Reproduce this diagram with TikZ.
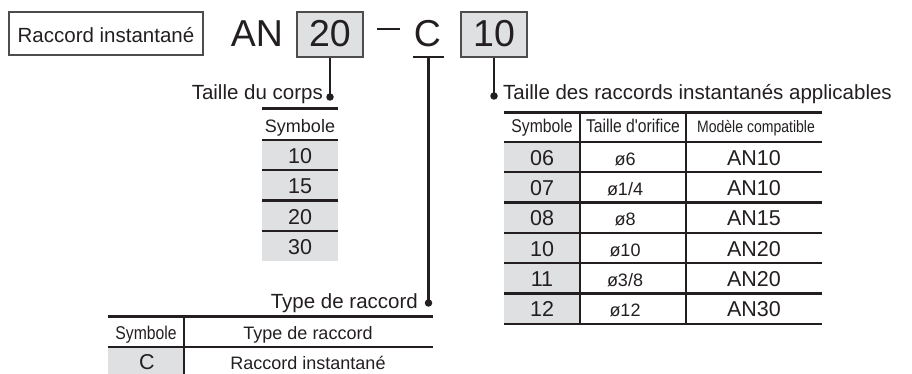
\documentclass[tikz,border=0pt]{standalone}
\usepackage{fontspec}
\setmainfont{Liberation Sans}
\newfontfamily\narrowfont[FakeStretch=0.85]{Liberation Sans}
\definecolor{cellgray}{RGB}{223,224,226}
\definecolor{ink}{RGB}{35,31,32}
\tikzset{
  txt/.style={inner sep=0pt, anchor=base, text=ink},
  big/.style={font=\fontsize{37.5}{38}\selectfont},
  lbl/.style={font=\fontsize{20.5}{21}\selectfont},
  val/.style={font=\fontsize{21.5}{22}\selectfont},
  small/.style={font=\fontsize{18}{18}\selectfont},
  head/.style={font=\narrowfont\fontsize{18.5}{19}\selectfont},
  rule/.style={draw=ink, line width=3pt},
  sep/.style={draw=ink, line width=2.3pt},
  lead/.style={draw=ink, line width=2.3pt},
  codebox/.style={draw=ink!80, line width=1.4pt, inner sep=0pt, text=ink},
  pin/.style={circle, fill=ink, inner sep=0pt, minimum size=7.5pt},
}
\begin{document}
\begin{tikzpicture}[x=1pt,y=-1pt]
  \useasboundingbox (0,0) rectangle (912,374);
  % model code
  \node[codebox, lbl, minimum width=194pt, minimum height=43pt,
    text height=18.4pt, text depth=0pt] (kind) at (106,33.5) {Raccord instantané};
  \node[txt, big] (an) at (257,47) {AN};
  \node[codebox, big, fill=cellgray, minimum width=66pt, minimum height=45pt,
    text height=25pt, text depth=0pt] (size) at (330,34.5) {20};
  \draw[ink, line width=1.6pt] (377,29) -- (400,29);
  \node[txt, big] (conn) at (427.5,47) {C};
  \coordinate (cbar) at (428.5,57);
  \draw[lead] (413,57) -- (444,57);
  \node[codebox, big, fill=cellgray, minimum width=66pt, minimum height=45pt,
    text height=25pt, text depth=0pt] (port) at (494,34.5) {10};

  % leaders
  \node[pin] (pcorps) at (330,97) {};
  \node[pin] (pport) at (494,96) {};
  \node[pin] (ptype) at (428.5,303) {};
  \draw[lead] (size.south) -- (pcorps.center);
  \draw[lead] (port.south) -- (pport.center);
  \draw[lead] (cbar) -- (ptype.center);
  \node[txt, lbl, anchor=base east] (lcorps) at (323,100) {Taille du corps};
  \node[txt, lbl, anchor=base west] (lport) at (503,100) {Taille des raccords instantanés applicables};
  \node[txt, lbl, anchor=base east] (ltype) at (418,308) {Type de raccord};

  % body size table
  \fill[cellgray] (262,140) rectangle (338,261);
  \draw[rule] (262,109) -- (338,109);
  \node[txt, small] (bhead) at (300,133) {Symbole};
  \foreach \v [count=\i] in {10,15,20,30} {
    \draw[sep] (262,{109.4+30.4*\i}) -- ++(76,0);
    \node[txt, val] (b\i) at (300,{132.8+30.4*\i}) {\v};
  }

  % port size table
  \fill[cellgray] (504,142) rectangle (580,324);
  \draw[rule] (504,113) -- (822,113);
  \draw[sep] (580,113) -- (580,324);
  \draw[sep] (686,113) -- (686,324);
  \node[txt, head] (phead1) at (542,133) {Symbole};
  \node[txt, head] (phead2) at (633,133) {Taille d'orifice};
  \node[txt, head, font=\narrowfont\fontsize{16.5}{17}\selectfont] (phead3) at (756,133) {Modèle compatible};
  \foreach \c/\d/\m [count=\i] in {06/ø6/AN10, 07/ø1\slash4/AN10, 08/ø8/AN15,
                                  10/ø10/AN20, 11/ø3\slash8/AN20, 12/ø12/AN30} {
    \draw[sep] (504,{142+30.3*(\i-1)}) -- ++(318,0);
    \node[txt, val] (pc\i) at (542,{135+30.3*\i}) {\c};
    \node[txt, small] (pd\i) at (625,{135+30.3*\i}) {\d};
    \node[txt, val] (pm\i) at (754,{135+30.3*\i}) {\m};
  }
  \draw[sep] (504,324) -- (822,324);

  % fitting type table
  \fill[cellgray] (108,347) rectangle (184,374);
  \draw[rule] (108,316) -- (433,316);
  \draw[sep] (108,347) -- (433,347);
  \draw[sep] (184,316) -- (184,374);
  \node[txt, head] (thead1) at (146,339) {Symbole};
  \node[txt, small] (thead2) at (308,339) {Type de raccord};
  \node[txt, val] (tc) at (147,369) {C};
  \node[txt, small] (tn) at (308,369) {Raccord instantané};
\end{tikzpicture}
\end{document}
